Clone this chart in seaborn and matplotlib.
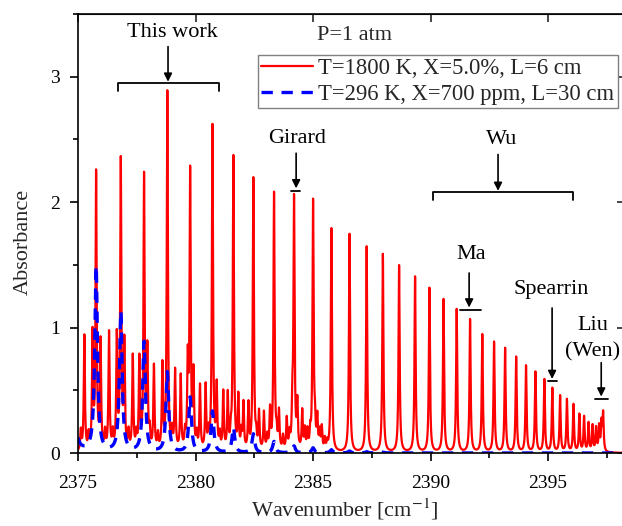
import numpy as np
import pandas as pd
import matplotlib
matplotlib.use("Agg")
import matplotlib.pyplot as plt
import seaborn as sns
from matplotlib.lines import Line2D
from matplotlib.ticker import MultipleLocator

# ---------------- data ----------------
# T=1800 K main-band line centres [cm-1] and peak absorbance
red_main_centers = [2375.77, 2376.82, 2377.81, 2378.80, 2379.77, 2380.72, 2381.61, 2382.46,
                    2383.34, 2384.19, 2385.00, 2385.78, 2386.55, 2387.28, 2387.97, 2388.66,
                    2389.34, 2389.95, 2390.55, 2391.11, 2391.68, 2392.20, 2392.70, 2393.17,
                    2393.64, 2394.06, 2394.46, 2394.84, 2395.18, 2395.51, 2395.80, 2396.08,
                    2396.33, 2396.53, 2396.72, 2396.89, 2397.04, 2397.17, 2397.27, 2397.34]
red_main_heights = [2.20, 2.30, 2.18, 2.86, 2.20, 2.59, 2.34, 2.17, 2.05, 1.99, 1.98, 1.78,
                    1.74, 1.64, 1.58, 1.49, 1.40, 1.31, 1.22, 1.14, 1.06, 0.94, 0.88, 0.83,
                    0.76, 0.69, 0.64, 0.58, 0.51, 0.45, 0.42, 0.38, 0.30, 0.28, 0.23, 0.21,
                    0.19, 0.20, 0.22, 0.30]
# T=1800 K hot-band lines
red_hot_centers = [2375.12, 2375.27, 2375.45, 2375.62, 2375.96, 2376.15, 2376.32, 2376.48,
                   2376.65, 2376.97, 2377.15, 2377.33, 2377.48, 2377.61, 2377.95, 2378.05,
                   2378.23, 2378.40, 2378.59, 2379.00, 2379.13, 2379.37, 2379.55, 2379.67,
                   2379.91, 2380.05, 2380.19, 2380.43, 2380.55, 2380.90, 2381.03, 2381.18,
                   2381.37, 2381.50, 2381.82, 2381.95, 2382.04, 2382.25, 2382.58, 2382.70,
                   2382.91, 2383.05, 2383.17, 2383.45, 2383.55, 2383.72, 2383.88, 2384.00,
                   2384.12, 2384.33, 2384.54, 2384.65, 2384.76, 2384.88, 2385.08, 2385.18,
                   2385.28, 2385.37, 2385.50, 2385.60]
red_hot_heights = [0.16, 0.92, 0.12, 0.91, 0.86, 0.14, 0.94, 0.13, 0.90, 0.84, 0.14, 0.75,
                   0.12, 0.72, 0.78, 0.14, 0.67, 0.12, 0.67, 0.14, 0.63, 0.59, 0.13, 0.67,
                   0.59, 0.12, 0.51, 0.51, 0.13, 0.50, 0.12, 0.46, 0.44, 0.12, 0.42, 0.14,
                   0.37, 0.36, 0.10, 0.30, 0.30, 0.11, 0.31, 0.11, 0.30, 0.11, 0.25, 0.12,
                   0.32, 0.36, 0.31, 0.16, 0.15, 0.13, 0.18, 0.25, 0.14, 0.18, 0.09, 0.06]
# T=296 K lines
blue_centers = [2374.74, 2375.77, 2376.82, 2377.81, 2378.80, 2379.77, 2380.72, 2381.61,
                2382.46, 2383.34, 2384.19, 2385.00, 2385.78, 2386.55, 2387.28, 2387.97]
blue_heights = [1.70, 1.48, 1.12, 0.88, 0.64, 0.44, 0.33, 0.20, 0.15, 0.09, 0.055, 0.04,
                0.025, 0.015, 0.01, 0.006]
red_hwhm = 0.028
blue_hwhm = 0.068

x_ticks = [2375, 2380, 2385, 2390, 2395]
y_ticks = [0, 1, 2, 3]
label_red = "T=1800 K, X=5.0%, L=6 cm"
label_blue = "T=296 K, X=700 ppm, L=30 cm"

# ---------------- build spectra from line list (Lorentzian profiles) ----------------
nu = np.linspace(2375.0, 2398.3, 24000)

def spectrum(centers, heights, g):
    c = np.asarray(centers)[:, None]
    h = np.asarray(heights)[:, None]
    return (h * g**2 / ((nu[None, :] - c) ** 2 + g**2)).sum(axis=0)

red = spectrum(red_main_centers + red_hot_centers, red_main_heights + red_hot_heights, red_hwhm)
blue = spectrum(blue_centers, blue_heights, blue_hwhm)
df_red = pd.DataFrame({"nu": nu, "A": red})
df_blue = pd.DataFrame({"nu": nu, "A": blue})

# ---------------- styling ----------------
sns.set_style("ticks")
plt.rcParams["font.family"] = ["Liberation Serif", "DejaVu Serif"]
plt.rcParams["mathtext.fontset"] = "stix"

fig = plt.figure(figsize=(6.22, 5.26), dpi=100)
ax = fig.add_axes([78 / 622, 73 / 526, 546.5 / 622, 439 / 526])

sns.lineplot(data=df_red, x="nu", y="A", ax=ax, color="#ff0000", lw=1.6, estimator=None, sort=False)
sns.lineplot(data=df_blue, x="nu", y="A", ax=ax, color="#0000ff", lw=2.4,
             linestyle=(0, (3.4, 2.6)), estimator=None, sort=False)

ax.set_xlim(2375, 2398.25)
ax.set_ylim(0, 3.5)
ax.set_xticks(x_ticks)
ax.set_yticks(y_ticks)
ax.xaxis.set_minor_locator(MultipleLocator(2.5))
ax.yaxis.set_minor_locator(MultipleLocator(0.5))
ax.tick_params(which="major", direction="out", length=6, width=1.2, labelsize=14, colors="k")
ax.tick_params(which="minor", direction="out", length=3.5, width=1.2, colors="k")
ax.tick_params(axis="x", pad=10)
ax.tick_params(axis="y", pad=7)
for s in ax.spines.values():
    s.set_visible(True)
    s.set_linewidth(1.2)
    s.set_color("k")

top = ax.secondary_xaxis("top")
top.set_xticks(x_ticks)
top.tick_params(direction="in", length=6, width=1.2, labeltop=False)
top.xaxis.set_minor_locator(matplotlib.ticker.NullLocator())
right = ax.secondary_yaxis("right")
right.set_yticks(y_ticks)
right.tick_params(direction="in", length=6, width=1.2, labelright=False)
right.yaxis.set_minor_locator(matplotlib.ticker.NullLocator())

ax.set_xlabel("Wavenumber [cm$^{-1}$]", fontsize=16)
ax.set_ylabel("Absorbance", fontsize=16)
ax.xaxis.set_label_coords((345 - 78) / 546.5, -0.10)
ax.yaxis.set_label_coords(-0.083, 0.48)

handles = [Line2D([], [], color="#ff0000", lw=1.6),
           Line2D([], [], color="#0000ff", lw=2.4, linestyle=(0, (3.4, 2.6)))]
leg = ax.legend(handles, [label_red, label_blue], loc="upper left",
                bbox_to_anchor=((258 - 78) / 546.5, (453 - 55) / 439), borderaxespad=0,
                fontsize=16.3, frameon=True, fancybox=False, framealpha=1, edgecolor="#808080",
                handlelength=2.3, handletextpad=0.2, borderpad=0.15, labelspacing=0.2)
leg.get_frame().set_linewidth(1.0)

# ---------------- annotations ----------------
akw = dict(arrowstyle="-|>", color="k", lw=1.2, mutation_scale=12, shrinkA=0, shrinkB=0)
tkw = dict(fontsize=16, ha="center", va="center", color="k")

def bracket(x0, x1, y, d):
    ax.plot([x0, x0, x1, x1], [y - d, y, y, y - d], color="k", lw=1.3)

def bar(x0, x1, y):
    ax.plot([x0, x1], [y, y], color="k", lw=1.3)

def arrow(x, y0, y1):
    ax.annotate("", xy=(x, y1), xytext=(x, y0), arrowprops=akw)

ax.text(2379.0, 3.35, "This work", **tkw)
arrow(2378.83, 3.24, 2.96)
bracket(2376.7, 2381.0, 2.95, 0.065)

ax.text(2385.17, 3.33, "P=1 atm", fontsize=16, ha="left", va="center")

ax.text(2384.3, 2.51, "Girard", **tkw)
arrow(2384.28, 2.39, 2.11)
bar(2384.06, 2384.45, 2.09)

ax.text(2393.03, 2.50, "Wu", **tkw)
arrow(2392.87, 2.38, 2.09)
bracket(2390.1, 2396.06, 2.08, 0.065)

ax.text(2391.72, 1.58, "Ma", **tkw)
arrow(2391.64, 1.435, 1.16)
bar(2391.26, 2392.15, 1.14)

ax.text(2395.13, 1.30, "Spearrin", **tkw)
arrow(2395.17, 1.156, 0.59)
bar(2395.0, 2395.38, 0.574)

ax.text(2396.91, 1.02, "Liu", **tkw)
ax.text(2396.91, 0.805, "(Wen)", **tkw)
arrow(2397.26, 0.72, 0.45)
bar(2397.0, 2397.55, 0.43)

fig.savefig("out.png", dpi=100)
